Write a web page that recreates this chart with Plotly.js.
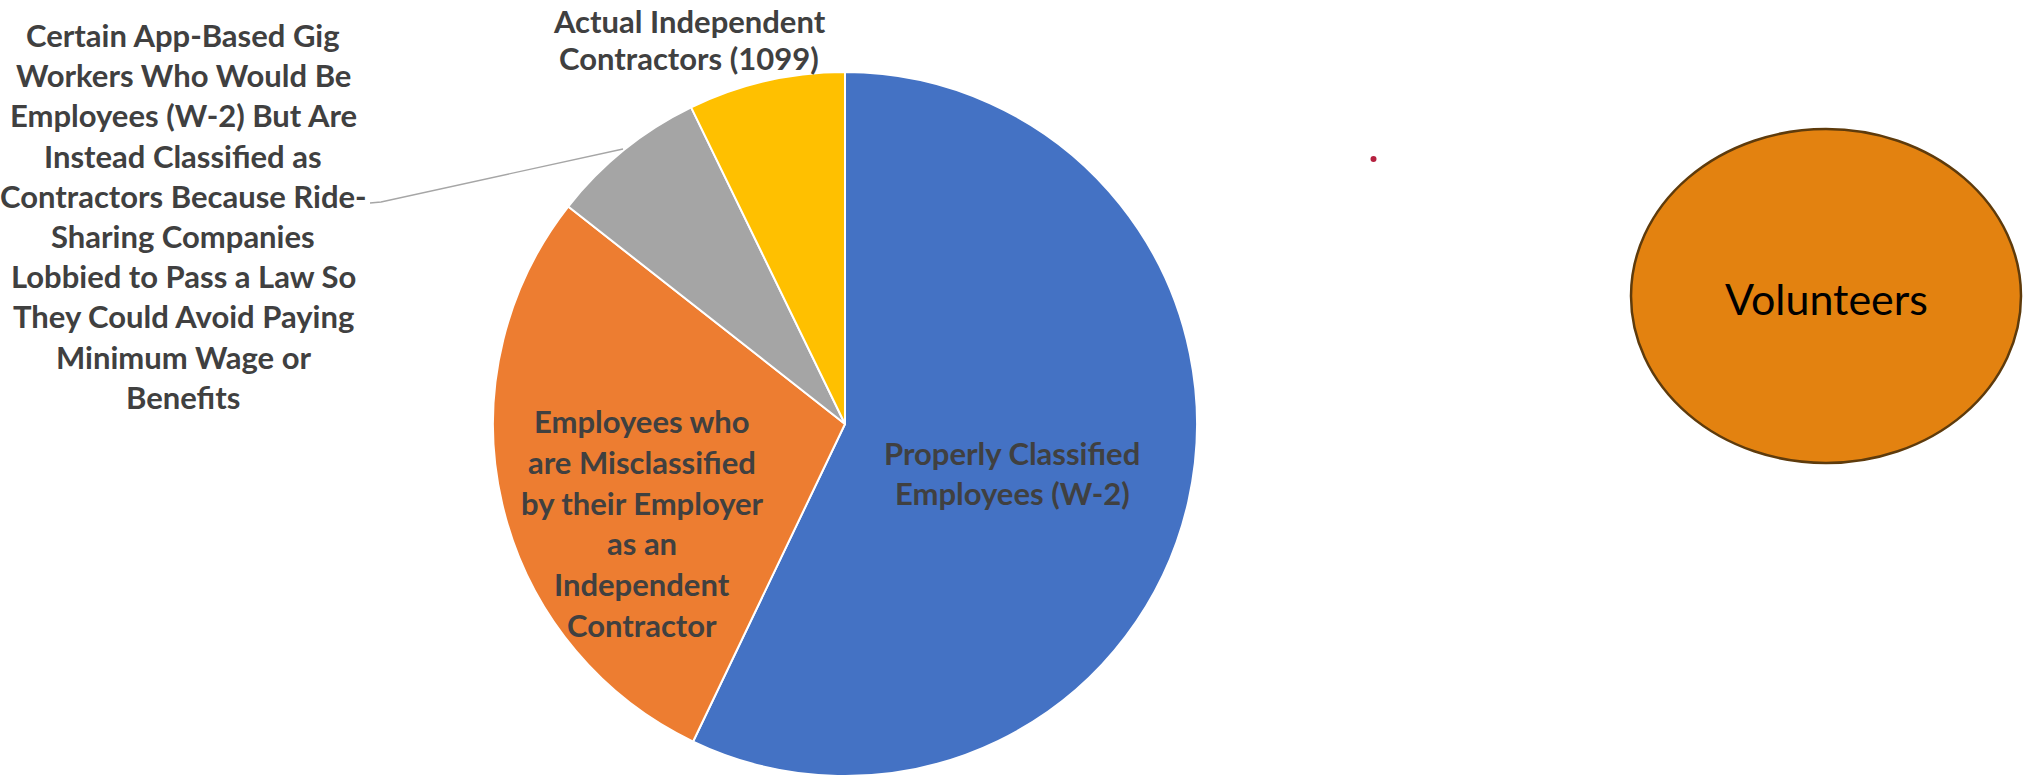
<!DOCTYPE html>
<html>
<head>
<meta charset="utf-8">
<script src="https://cdn.plot.ly/plotly-3.0.1.min.js"></script>
<style>
  html, body { margin: 0; padding: 0; background: #ffffff; }
  #chart { width: 2025px; height: 778px; }
</style>
</head>
<body>
<div id="chart"></div>
<script>
// ---------- data ----------
const categories = [
  'Properly Classified Employees (W-2)',
  'Employees who are Misclassified by their Employer as an Independent Contractor',
  'Certain App-Based Gig Workers Who Would Be Employees (W-2) But Are Instead Classified as Contractors Because Ride-Sharing Companies Lobbied to Pass a Law So They Could Avoid Paying Minimum Wage or Benefits',
  'Actual Independent Contractors (1099)'
];
const shares = [57.1, 28.5, 7.2, 7.2];
const sliceColors = ['#4472C4', '#ED7D31', '#A5A5A5', '#FFC000'];
const labelLines = [
  ['Properly Classified', 'Employees (W-2)'],
  ['Employees who', 'are Misclassified', 'by their Employer', 'as an', 'Independent', 'Contractor'],
  ['Certain App-Based Gig', 'Workers Who Would Be', 'Employees (W-2) But Are', 'Instead Classified as',
   'Contractors Because Ride-', 'Sharing Companies', 'Lobbied to Pass a Law So', 'They Could Avoid Paying',
   'Minimum Wage or', 'Benefits'],
  ['Actual Independent', 'Contractors (1099)']
];
const extraShapeLabel = 'Volunteers';

// ---------- layout helpers (pixel -> paper) ----------
const W = 2025, H = 778;
const px = x => x / W;
const py = y => 1 - y / H;

// label placement (pixel centres of first line, line spacing)
const labelPos = [
  { x: 1012, y: 453, dy: 40 },
  { x: 642, y: 421, dy: 40.8 },
  { x: 183, y: 35, dy: 40.2 },
  { x: 689, y: 21, dy: 37 }
];
const labelFont = { family: 'Lato, "Open Sans", sans-serif', size: 31, color: '#404040', weight: 700 };

const annotations = [];
labelLines.forEach((lines, k) => {
  const p = labelPos[k];
  lines.forEach((ln, i) => {
    annotations.push({
      xref: 'paper', yref: 'paper',
      x: px(p.x), y: py(p.y + i * p.dy),
      xanchor: 'center', yanchor: 'middle',
      text: ln, showarrow: false, borderpad: 0,
      font: labelFont
    });
  });
});
annotations.push({
  xref: 'paper', yref: 'paper',
  x: px(1826), y: py(298), xanchor: 'center', yanchor: 'middle',
  text: extraShapeLabel, showarrow: false,
  font: { family: 'Lato, "Open Sans", sans-serif', size: 43, color: '#000000', weight: 400 }
});

const shapes = [
  // leader line for the grey slice label
  {
    type: 'path', xref: 'paper', yref: 'paper',
    path: `M ${px(370)},${py(203)} L ${px(381)},${py(202)} L ${px(623)},${py(149)}`,
    line: { color: '#A6A6A6', width: 1.3 }
  },
  // volunteers ellipse
  {
    type: 'circle', xref: 'paper', yref: 'paper',
    x0: px(1631), x1: px(2021), y0: py(463), y1: py(129),
    fillcolor: '#E38210', line: { color: '#5E3B0C', width: 2.5 }, layer: 'below'
  },
  // stray red dot
  {
    type: 'circle', xref: 'paper', yref: 'paper',
    x0: px(1370.5), x1: px(1376.5), y0: py(162), y1: py(156),
    fillcolor: '#B5213F', line: { width: 0 }
  }
];

const trace = {
  type: 'pie',
  labels: categories,
  values: shares,
  sort: false,
  direction: 'clockwise',
  rotation: 0,
  textinfo: 'none',
  hoverinfo: 'label+percent',
  marker: { colors: sliceColors, line: { color: '#ffffff', width: 2 } },
  domain: { x: [px(493), px(1197)], y: [py(776), py(72)] }
};

const layout = {
  width: W, height: H,
  margin: { l: 0, r: 0, t: 0, b: 0 },
  paper_bgcolor: '#ffffff',
  showlegend: false,
  annotations: annotations,
  shapes: shapes
};

Plotly.newPlot('chart', [trace], layout, { displayModeBar: false, responsive: false });
</script>
</body>
</html>
